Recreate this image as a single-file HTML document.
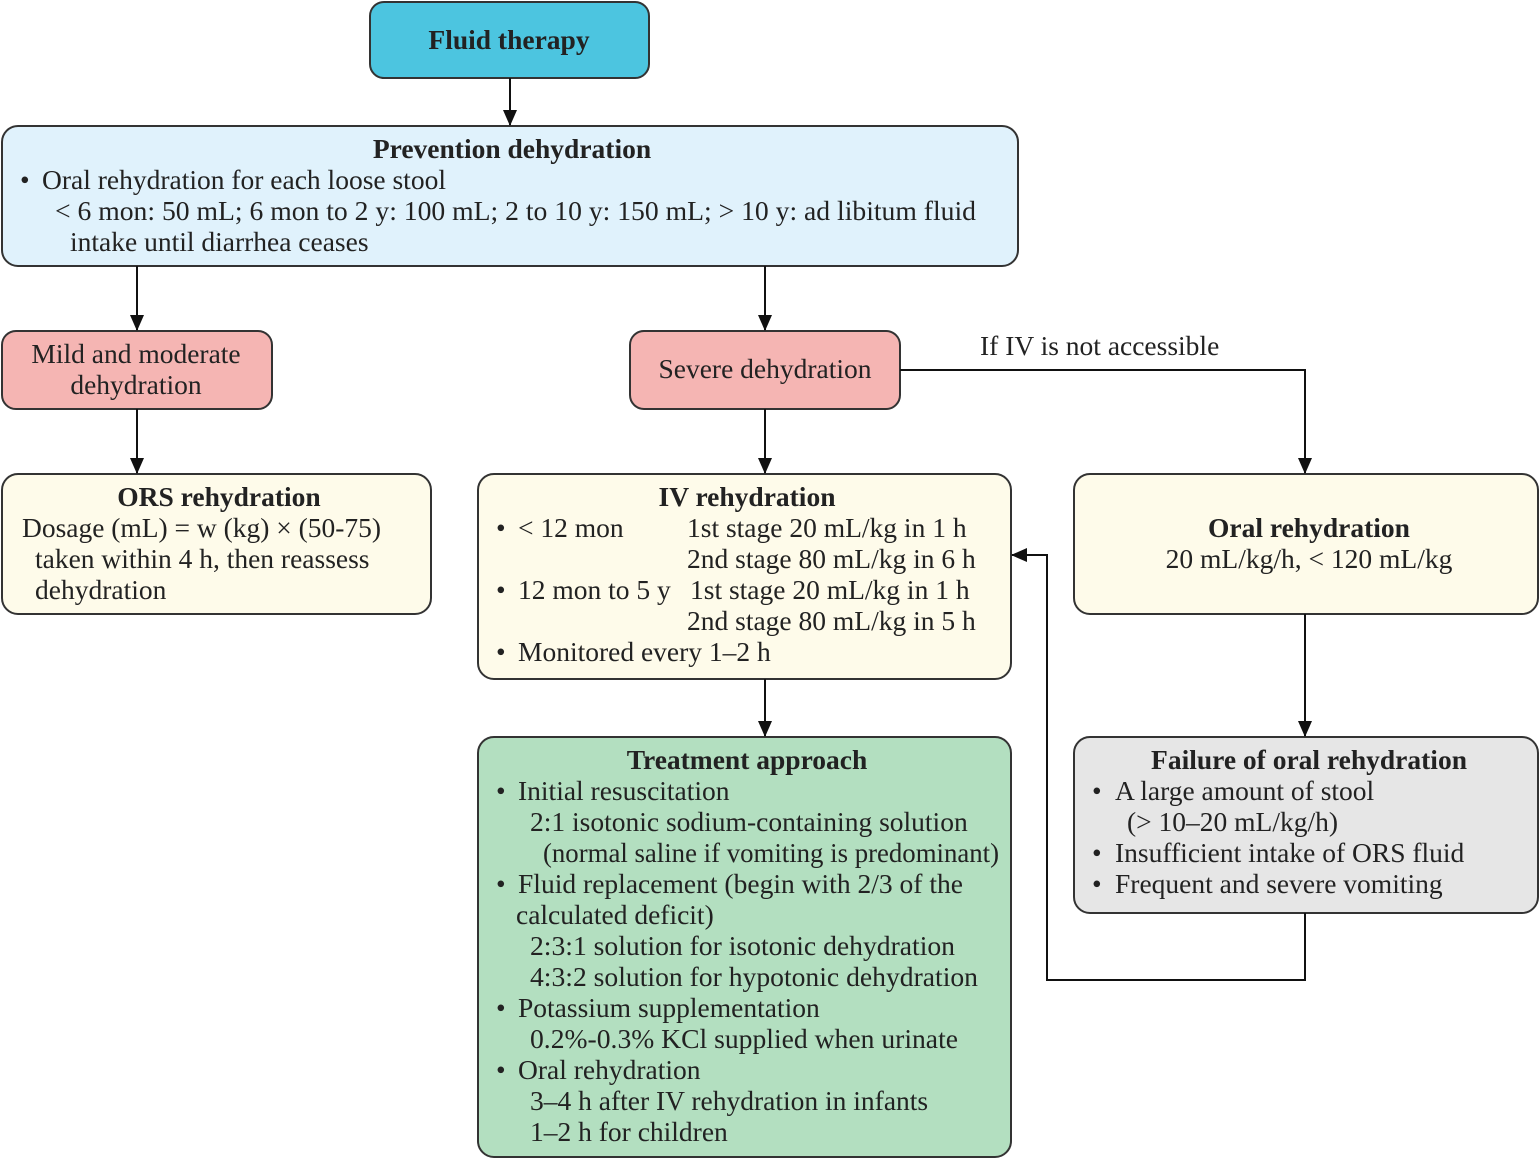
<!DOCTYPE html>
<html><head><meta charset="utf-8"><style>
html,body{margin:0;padding:0;background:#fff}
svg text{font-family:"Liberation Serif",serif;font-size:27.5px;fill:#222}
.b{font-weight:bold}
</style></head><body>
<svg width="1540" height="1161" viewBox="0 0 1540 1161" xmlns="http://www.w3.org/2000/svg">
<defs><marker id="a" markerWidth="16" markerHeight="14" refX="15" refY="7" orient="auto" markerUnits="userSpaceOnUse"><path d="M0,0 L16,7 L0,14 z" fill="#111"/></marker></defs>
<g stroke="#333" stroke-width="2">
<rect x="370" y="2" width="279" height="76" rx="14" fill="#4CC5E0"/>
<rect x="2" y="126" width="1016" height="140" rx="16" fill="#E0F2FC"/>
<rect x="2" y="331" width="270" height="78" rx="14" fill="#F5B5B3"/>
<rect x="630" y="331" width="270" height="78" rx="14" fill="#F5B5B3"/>
<rect x="2" y="474" width="429" height="140" rx="16" fill="#FEFBEA"/>
<rect x="478" y="474" width="533" height="205" rx="16" fill="#FEFBEA"/>
<rect x="1074" y="474" width="464" height="140" rx="16" fill="#FEFBEA"/>
<rect x="478" y="737" width="533" height="420" rx="16" fill="#B3DFC0"/>
<rect x="1074" y="737" width="464" height="176" rx="16" fill="#E6E6E6"/>
</g>
<g stroke="#111" stroke-width="2" fill="none" marker-end="url(#a)">
<line x1="510" y1="78" x2="510" y2="125"/>
<line x1="137" y1="266" x2="137" y2="330"/>
<line x1="765" y1="266" x2="765" y2="330"/>
<line x1="137" y1="409" x2="137" y2="473"/>
<line x1="765" y1="409" x2="765" y2="473"/>
<polyline points="900,370 1305,370 1305,473"/>
<line x1="765" y1="679" x2="765" y2="736"/>
<line x1="1305" y1="614" x2="1305" y2="736"/>
<polyline points="1305,913 1305,980 1047,980 1047,555 1012,555"/>
</g>
<text x="509" y="49" text-anchor="middle" class="b">Fluid therapy</text>
<text x="512" y="158" text-anchor="middle" class="b">Prevention dehydration</text>
<text x="20" y="189">•</text><text x="42" y="189">Oral rehydration for each loose stool</text>
<text x="55" y="220" textLength="921" lengthAdjust="spacingAndGlyphs">&lt; 6 mon: 50 mL; 6 mon to 2 y: 100 mL; 2 to 10 y: 150 mL;  &gt; 10 y: ad libitum fluid</text>
<text x="70" y="251">intake until diarrhea ceases</text>
<text x="136" y="363" text-anchor="middle">Mild and moderate</text>
<text x="136" y="394" text-anchor="middle">dehydration</text>
<text x="765" y="378" text-anchor="middle">Severe dehydration</text>
<text x="980" y="355">If IV is not accessible</text>
<text x="219" y="506" text-anchor="middle" class="b">ORS rehydration</text>
<text x="22" y="537" textLength="359" lengthAdjust="spacingAndGlyphs">Dosage (mL) = w (kg) × (50-75)</text>
<text x="35" y="568">taken within 4 h, then reassess</text>
<text x="35" y="599">dehydration</text>
<text x="747" y="506" text-anchor="middle" class="b">IV rehydration</text>
<text x="496" y="537">•</text><text x="518" y="537">&lt; 12 mon</text><text x="687" y="537">1st stage 20 mL/kg in 1 h</text>
<text x="687" y="568">2nd stage 80 mL/kg in 6 h</text>
<text x="496" y="599">•</text><text x="518" y="599">12 mon to 5 y</text><text x="690" y="599">1st stage 20 mL/kg in 1 h</text>
<text x="687" y="630">2nd stage 80 mL/kg in 5 h</text>
<text x="496" y="661">•</text><text x="518" y="661">Monitored every 1–2 h</text>
<text x="1309" y="537" text-anchor="middle" class="b">Oral rehydration</text>
<text x="1309" y="568" text-anchor="middle">20 mL/kg/h, &lt; 120 mL/kg</text>
<text x="747" y="769" text-anchor="middle" class="b">Treatment approach</text>
<text x="496" y="800">•</text><text x="518" y="800">Initial resuscitation</text>
<text x="530" y="831">2:1 isotonic sodium-containing solution</text>
<text x="543" y="862" textLength="456" lengthAdjust="spacingAndGlyphs">(normal saline if vomiting is predominant)</text>
<text x="496" y="893">•</text><text x="518" y="893" textLength="445" lengthAdjust="spacingAndGlyphs">Fluid replacement (begin with 2/3 of the</text>
<text x="516" y="924">calculated deficit)</text>
<text x="530" y="955" textLength="425" lengthAdjust="spacingAndGlyphs">2:3:1 solution for isotonic dehydration</text>
<text x="530" y="986" textLength="448" lengthAdjust="spacingAndGlyphs">4:3:2 solution for hypotonic dehydration</text>
<text x="496" y="1017">•</text><text x="518" y="1017">Potassium supplementation</text>
<text x="530" y="1048" textLength="428" lengthAdjust="spacingAndGlyphs">0.2%-0.3% KCl supplied when urinate</text>
<text x="496" y="1079">•</text><text x="518" y="1079">Oral rehydration</text>
<text x="530" y="1110">3–4 h after IV rehydration in infants</text>
<text x="530" y="1141">1–2 h for children</text>
<text x="1309" y="769" text-anchor="middle" class="b">Failure of oral rehydration</text>
<text x="1092" y="800">•</text><text x="1115" y="800">A large amount of stool</text>
<text x="1127" y="831">(&gt; 10–20 mL/kg/h)</text>
<text x="1092" y="862">•</text><text x="1115" y="862">Insufficient intake of ORS fluid</text>
<text x="1092" y="893">•</text><text x="1115" y="893">Frequent and severe vomiting</text>
</svg>
</body></html>
